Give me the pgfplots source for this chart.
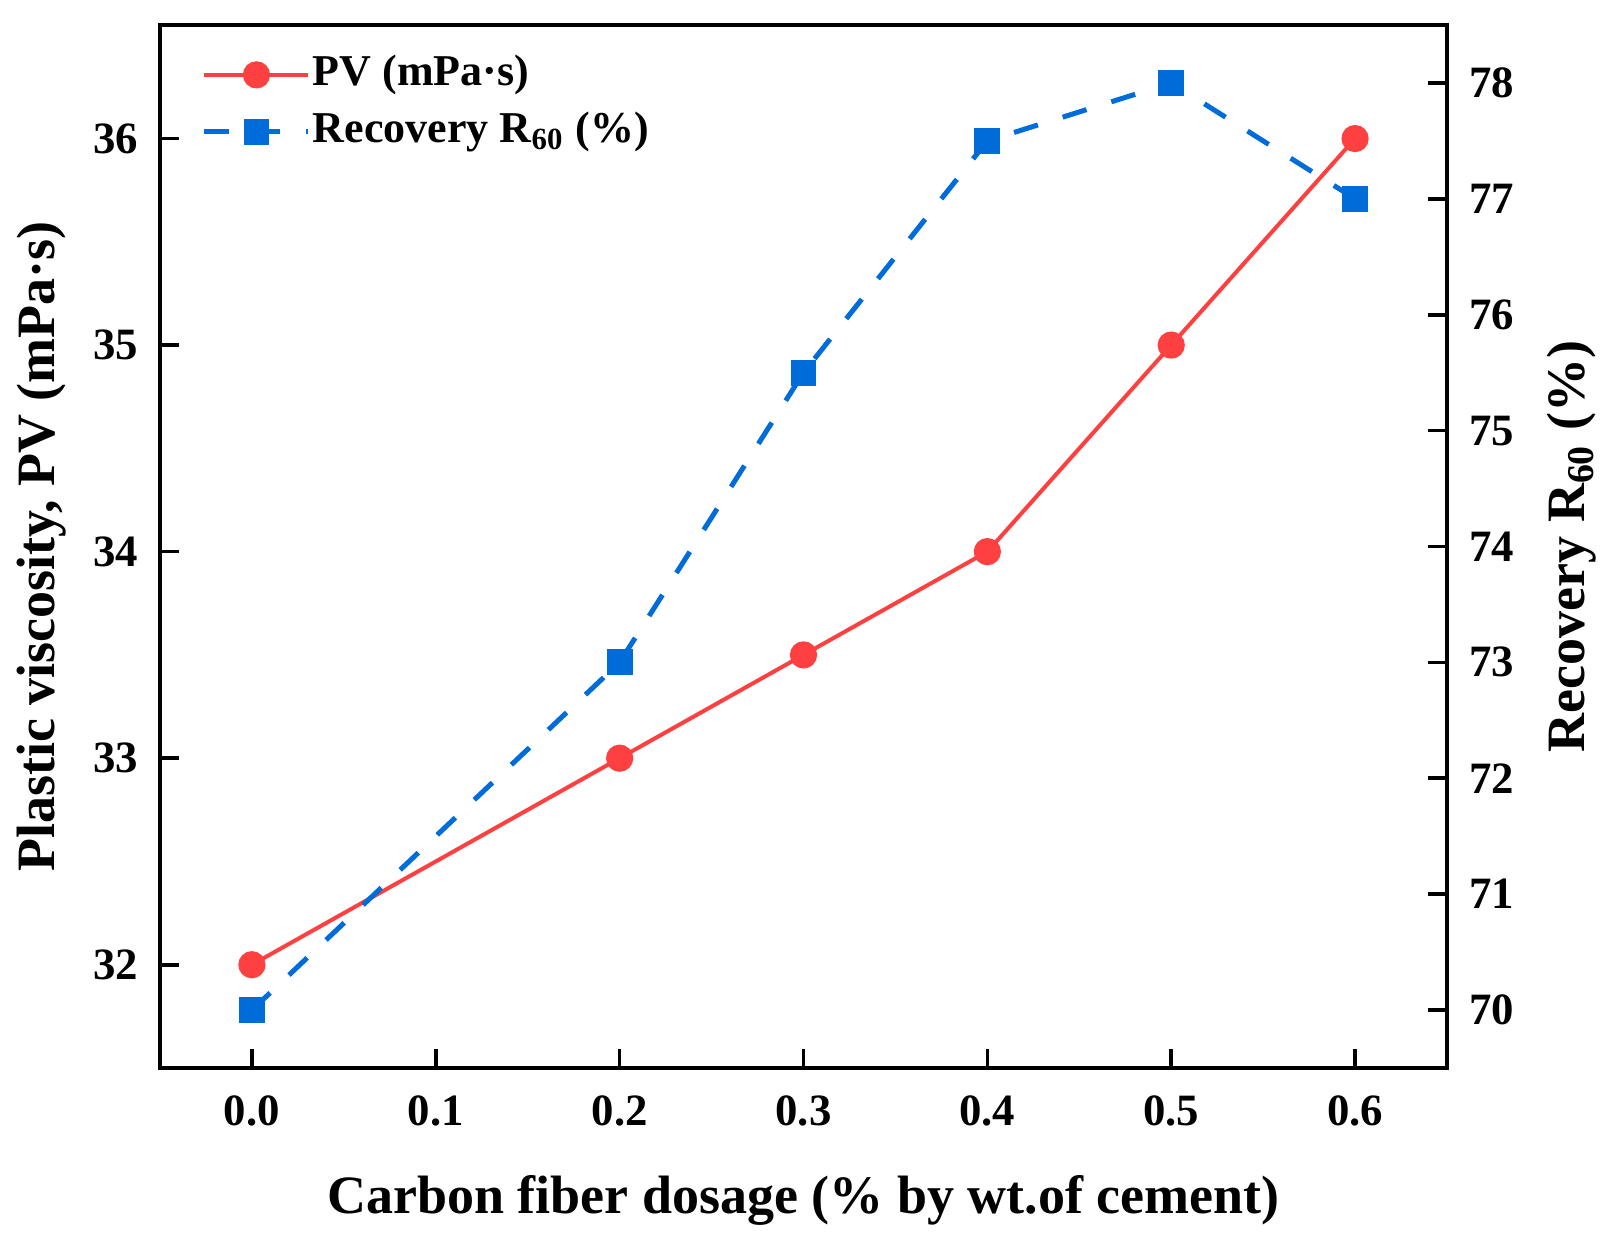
\documentclass[border=0pt]{standalone}
\usepackage{fontspec}
\setmainfont{Liberation Serif}
\usepackage{pgfplots}
\pgfplotsset{compat=1.18}
\definecolor{pvred}{RGB}{255,64,64}
\definecolor{rblue}{RGB}{0,108,218}

\begin{document}
\bfseries
\begin{tikzpicture}
\pgfplotsset{
  base/.style={
    width=321.75pt, height=260.75pt, scale only axis,
    xmin=-0.05, xmax=0.65,
    axis line style={line width=0.9pt},
    major tick style={line width=0.9pt, black},
    major tick length=4.7pt,
    tick align=inside,
    /pgf/number format/assume math mode=true,
    tick label style={font=\fontsize{11.2}{13}\selectfont\bfseries},
    label style={font=\fontsize{13.5}{16}\selectfont\bfseries},
  }
}
\begin{axis}[base,
  ymin=31.5, ymax=36.55,
  xtick={0,0.1,0.2,0.3,0.4,0.5,0.6},
  xticklabels={0.0,0.1,0.2,0.3,0.4,0.5,0.6},
  ytick={32,33,34,35,36},
  xtick pos=left, ytick pos=left,
  yticklabel style={xshift=-2pt},
  xticklabel style={yshift=-3.5pt},
  xlabel={Carbon fiber dosage (\% by wt.of cement)},
  xlabel style={at={(axis description cs:0.5,-0.127)}, anchor=center},
  ylabel={Plastic viscosity, PV (mPa·s)},
  ylabel style={at={(axis description cs:-0.092,0.5)}, anchor=center},
]
\addplot[pvred, line width=1pt, mark=*, mark size=2.9pt, mark options={solid, fill=pvred, draw=pvred}]
  coordinates {(0,32) (0.2,33) (0.3,33.5) (0.4,34) (0.5,35) (0.6,36)};
\end{axis}

\begin{axis}[base,
  ymin=69.5, ymax=78.5,
  axis x line=none, axis y line*=right,
  tick align=inside,
  ytick={70,71,72,73,74,75,76,77,78},
  yticklabel style={xshift=2pt},
  ylabel={Recovery R\textsubscript{60} (\%)},
  ylabel style={at={(axis description cs:1.0971,0.5)}, anchor=center},
  legend cell align=left,
  legend style={draw=none, fill=none, at={(axis description cs:0.032,0.975)}, anchor=north west,
    inner sep=0pt, row sep=2.75pt, font=\fontsize{11}{13}\selectfont\bfseries,
    nodes={inner sep=0.5pt, text height=8pt, text depth=2.5pt}},
  legend image code/.code={\draw[mark repeat=2, mark phase=2, #1] plot coordinates {(0pt,0pt) (13pt,0pt) (26pt,0pt)};},
]
\addlegendimage{pvred, line width=1pt, mark=*, mark size=2.9pt, mark options={solid, fill=pvred, draw=pvred}}
\addlegendentry{PV (mPa·s)}
\addplot[rblue, line width=1.25pt, dash pattern=on 6.25pt off 6.5pt, mark=square*, mark size=2.6pt, mark options={solid, fill=rblue, draw=rblue}]
  coordinates {(0,70) (0.2,73) (0.3,75.5) (0.4,77.5) (0.5,78) (0.6,77)};
\addlegendentry{Recovery R\textsubscript{60} (\%)}
\end{axis}
\pgfresetboundingbox
\useasboundingbox (-40pt,-43.25pt) rectangle (364.25pt,267pt);
\end{tikzpicture}
\end{document}
